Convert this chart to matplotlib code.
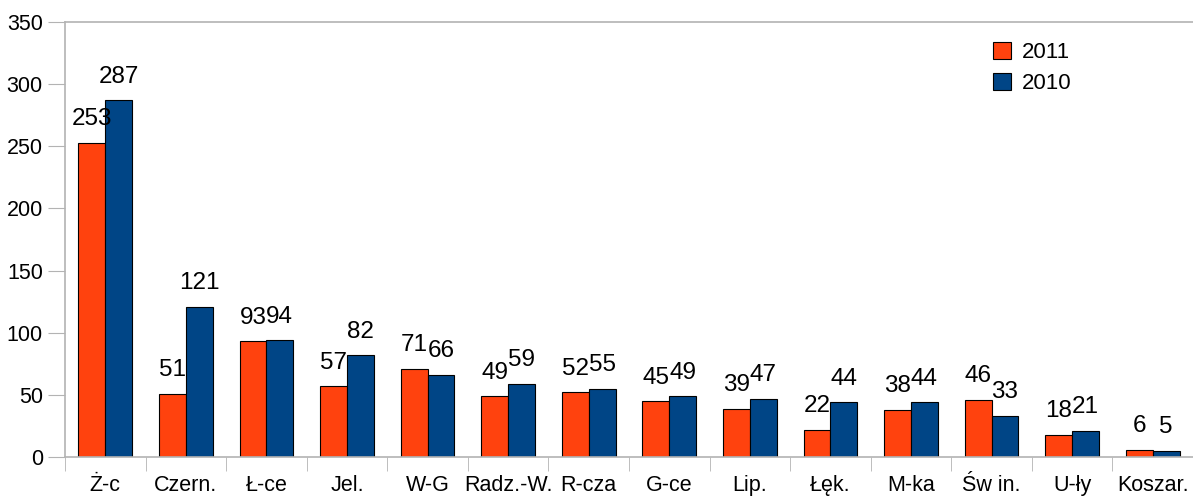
import numpy as np
import matplotlib.pyplot as plt

plt.rcParams['font.family'] = ['Liberation Sans', 'DejaVu Sans']

kategorie = ["Ż-c", "Czern.", "Ł-ce", "Jel.", "W-G", "Radz.-W.", "R-cza",
             "G-ce", "Lip.", "Łęk.", "M-ka", "Św in.", "U-ły", "Koszar."]
rok2011 = [253, 51, 93, 57, 71, 49, 52, 45, 39, 22, 38, 46, 18, 6]
rok2010 = [287, 121, 94, 82, 66, 59, 55, 49, 47, 44, 44, 33, 21, 5]

kolor2011 = "#ff420e"
kolor2010 = "#004586"
szary = "#b3b3b3"

fig = plt.figure(figsize=(11.93, 4.99), dpi=100)
ax = fig.add_axes([65 / 1193, 1 - 457 / 499, 1 - 65 / 1193, (457 - 22) / 499])

x = np.arange(len(kategorie))
w = 1 / 3
b1 = ax.bar(x - w / 2, rok2011, w, color=kolor2011, edgecolor="black", linewidth=0.8, label="2011")
b2 = ax.bar(x + w / 2, rok2010, w, color=kolor2010, edgecolor="black", linewidth=0.8, label="2010")

for bars in (b1, b2):
    for b in bars:
        ax.annotate(str(int(b.get_height())), (b.get_x() + b.get_width() / 2, b.get_height()),
                    xytext=(0, 9), textcoords="offset points", ha="center", va="bottom",
                    fontsize=17.5)

ax.set_xlim(-0.5, len(kategorie) - 0.5)
ax.set_ylim(0, 350)
ax.set_yticks(range(0, 351, 50))
ax.set_xticks(np.arange(len(kategorie) + 1) - 0.5, minor=True)
ax.set_xticks(x)
ax.set_xticklabels(kategorie)
ax.tick_params(axis="x", which="major", length=0, pad=13, labelsize=15.5)
ax.tick_params(axis="x", which="minor", length=10, color=szary)
ax.tick_params(axis="y", length=12, color=szary, labelsize=15.5, pad=4)

for s in ["left", "bottom", "top"]:
    ax.spines[s].set_color(szary)
    ax.spines[s].set_linewidth(1.2)
ax.spines["right"].set_visible(False)

ax.legend(loc="upper left", bbox_to_anchor=(0.805, 1.0), frameon=False, fontsize=16,
          handlelength=0.8, handleheight=0.8, handletextpad=0.5, labelspacing=0.45)

fig.savefig("out.png", dpi=100)
